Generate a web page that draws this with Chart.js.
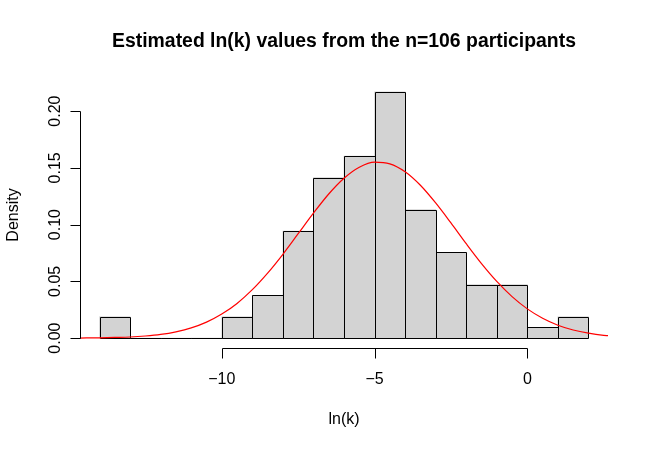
<!DOCTYPE html>
<html>
<head>
<meta charset="utf-8">
<script src="https://cdn.jsdelivr.net/npm/chart.js@4.4.1/dist/chart.umd.min.js"></script>
<style>
html,body{margin:0;padding:0;background:#fff;}
#wrap{width:650px;height:450px;}
</style>
</head>
<body>
<div id="wrap"><canvas id="c" width="650" height="450"></canvas></div>
<script>
// Histogram bins (width 1) — left edges and densities
const binStarts = [-14,-13,-12,-11,-10,-9,-8,-7,-6,-5,-4,-3,-2,-1,0,1];
const densities = [0.0189,0,0,0,0.0189,0.0377,0.0943,0.1415,0.1604,0.2170,0.1132,0.0755,0.0472,0.0472,0.0094,0.0189];

// Red density curve
const curveX = [-14.64,-14,-13.5,-13,-12.5,-12,-11.5,-11,-10.5,-10,-9.5,-9,-8.5,-8,-7.5,-7,-6.5,-6,-5.5,-5,-4.5,-4,-3.5,-3,-2.5,-2,-1.5,-1,-0.5,0,0.5,1,1.5,2,2.5,2.64];
const curveY = [0.0001,0.0003,0.0006,0.0010,0.0019,0.0033,0.0056,0.0090,0.0141,0.0212,0.0306,0.0427,0.0573,0.0739,0.0920,0.1101,0.1270,0.1409,0.1506,0.1551,0.1536,0.1466,0.1347,0.1191,0.1015,0.0832,0.0657,0.0500,0.0366,0.0258,0.0175,0.0114,0.0072,0.0044,0.0025,0.0022];

// Tick labels
const xTicks = [-10,-5,0];
const xTickLabels = ['\u221210','\u22125','0'];
const yTicks = [0,0.05,0.10,0.15,0.20];
const yTickLabels = ['0.00','0.05','0.10','0.15','0.20'];

const titleText = 'Estimated ln(k) values from the n=106 participants';
const xTitle = 'ln(k)';
const yTitle = 'Density';

const FONT = '"Liberation Sans", Arial, Helvetica, sans-serif';

const barData = binStarts.map((s,i)=>({x: s + 0.5, y: densities[i]}));
const lineData = curveX.map((x,i)=>({x: x, y: curveY[i]}));

const rAxes = {
  id: 'rAxes',
  afterDatasetDraw(chart, args) {
    if (args.index !== 1) return;
    const ctx = chart.ctx;
    const meta = chart.getDatasetMeta(1);
    ctx.save();
    ctx.strokeStyle = '#000';
    ctx.lineWidth = 1;
    meta.data.forEach(el => {
      const p = el.getProps(['x','y','base','width'], true);
      const l = Math.round(p.x - p.width/2) + 0.5;
      const r = Math.round(p.x + p.width/2) + 0.5;
      const t = Math.round(p.y) + 0.5;
      const b = Math.round(p.base) + 0.5;
      ctx.beginPath();
      ctx.moveTo(l,b); ctx.lineTo(l,t); ctx.lineTo(r,t); ctx.lineTo(r,b); ctx.closePath();
      ctx.stroke();
    });
    ctx.restore();
  },
  afterDraw(chart) {
    const ctx = chart.ctx;
    const xs = chart.scales.x, ys = chart.scales.y;
    const area = chart.chartArea;
    ctx.save();
    ctx.strokeStyle = '#000';
    ctx.fillStyle = '#000';
    ctx.lineWidth = 1;
    // x axis
    const ay = Math.round(area.bottom) + 0.5;
    const x0 = Math.round(xs.getPixelForValue(xTicks[0])) + 0.5;
    const x1 = Math.round(xs.getPixelForValue(xTicks[xTicks.length-1])) + 0.5;
    ctx.beginPath();
    ctx.moveTo(x0, ay); ctx.lineTo(x1, ay);
    xTicks.forEach(v => {
      const px = Math.round(xs.getPixelForValue(v)) + 0.5;
      ctx.moveTo(px, ay); ctx.lineTo(px, ay + 10);
    });
    ctx.stroke();
    ctx.font = '16px ' + FONT;
    ctx.textAlign = 'center';
    ctx.textBaseline = 'middle';
    xTicks.forEach((v,i) => {
      ctx.fillText(xTickLabels[i], xs.getPixelForValue(v), ay + 31);
    });
    // y axis
    const ax = Math.round(area.left) + 0.5;
    const y0 = Math.round(ys.getPixelForValue(yTicks[0])) + 0.5;
    const y1 = Math.round(ys.getPixelForValue(yTicks[yTicks.length-1])) + 0.5;
    ctx.beginPath();
    ctx.moveTo(ax, y0); ctx.lineTo(ax, y1);
    yTicks.forEach(v => {
      const py = Math.round(ys.getPixelForValue(v)) + 0.5;
      ctx.moveTo(ax, py); ctx.lineTo(ax - 10, py);
    });
    ctx.stroke();
    yTicks.forEach((v,i) => {
      ctx.save();
      ctx.translate(ax - 25, ys.getPixelForValue(v));
      ctx.rotate(-Math.PI/2);
      ctx.fillText(yTickLabels[i], 0, 0);
      ctx.restore();
    });
    // axis titles
    ctx.fillText(xTitle, (area.left + area.right)/2, 420);
    ctx.save();
    ctx.translate(14, (area.top + area.bottom)/2);
    ctx.rotate(-Math.PI/2);
    ctx.fillText(yTitle, 0, 0);
    ctx.restore();
    ctx.restore();
  }
};

new Chart(document.getElementById('c'), {
  data: {
    datasets: [
      {
        type: 'line',
        data: lineData,
        borderColor: '#ff0000',
        borderWidth: 1.2,
        pointRadius: 0,
        fill: false,
        cubicInterpolationMode: 'monotone',
        order: 0
      },
      {
        type: 'bar',
        data: barData,
        backgroundColor: '#d3d3d3',
        borderWidth: 0,
        barPercentage: 1,
        categoryPercentage: 1,
        order: 1
      }
    ]
  },
  options: {
    responsive: false,
    animation: false,
    events: [],
    layout: { padding: { left: 80, right: 42, top: 0, bottom: 102 } },
    scales: {
      x: { type: 'linear', min: -14.64, max: 2.64, offset: false, display: false },
      y: { type: 'linear', min: -0.00868, max: 0.22568, display: false }
    },
    plugins: {
      legend: { display: false },
      tooltip: { enabled: false },
      title: {
        display: true,
        text: titleText,
        color: '#000',
        font: { family: FONT, size: 19.4, weight: 'bold', lineHeight: 1.2 },
        padding: { top: 30, bottom: 28.72 }
      }
    }
  },
  plugins: [rAxes]
});
</script>
</body>
</html>
